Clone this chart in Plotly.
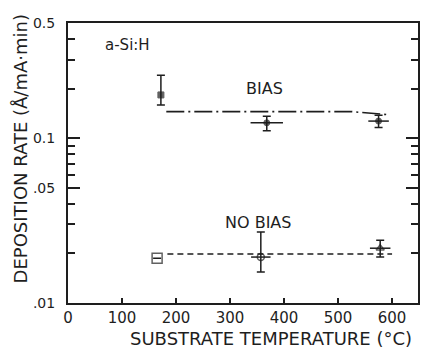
import math
import plotly.graph_objects as go

# ---- data ----
x_bias = [172, 368, 575]
y_bias = [0.183, 0.124, 0.127]
xerr_bias = [0, 30, 19]
yerr_plus_bias = [0.058, 0.012, 0.011]
yerr_minus_bias = [0.024, 0.013, 0.011]
sym_bias = ["square", "circle", "circle"]

x_nobias = [165, 357, 578]
y_nobias = [0.0187, 0.019, 0.0215]
xerr_nobias = [0, 18, 19]
yerr_plus_nobias = [0, 0.008, 0.0025]
yerr_minus_nobias = [0, 0.0036, 0.0025]
sym_nobias = ["square-open", "circle-open", "triangle-up-open"]

x_bias_line = [182, 525, 590]
y_bias_line = [0.145, 0.145, 0.139]
x_nobias_line = [184, 600]
y_nobias_line = [0.0198, 0.0198]

x_ticks = [0, 100, 200, 300, 400, 500, 600]
y_ticks = [0.01, 0.05, 0.1, 0.5]
y_ticktext = [".01", ".05", "0.1", "0.5"]
y_minor = [0.02, 0.03, 0.04, 0.06, 0.07, 0.08, 0.09, 0.2, 0.3, 0.4]

INK = "#1e1e1e"
FONT = "DejaVu Sans"

fig = go.Figure()

fig.add_trace(go.Scatter(x=x_bias_line, y=y_bias_line, mode="lines",
                         line=dict(color=INK, width=1.6, dash="18px,4px,2px,4px"),
                         showlegend=False, hoverinfo="skip"))
fig.add_trace(go.Scatter(x=x_nobias_line, y=y_nobias_line, mode="lines",
                         line=dict(color=INK, width=1.5, dash="6px,4px"),
                         showlegend=False, hoverinfo="skip"))

fig.add_trace(go.Scatter(
    x=x_bias, y=y_bias, mode="markers",
    marker=dict(symbol=sym_bias, size=[6, 6, 6], color=INK,
                line=dict(color=INK, width=1)),
    error_y=dict(type="data", symmetric=False, array=yerr_plus_bias,
                 arrayminus=yerr_minus_bias, color=INK, thickness=1.5, width=4),
    error_x=dict(type="data", array=xerr_bias, color=INK, thickness=1.5, width=0),
    showlegend=False))

fig.add_trace(go.Scatter(
    x=x_nobias, y=y_nobias, mode="markers",
    marker=dict(symbol=sym_nobias, size=[10, 7, 7], color=INK,
                line=dict(color=INK, width=1.5)),
    error_y=dict(type="data", symmetric=False, array=yerr_plus_nobias,
                 arrayminus=yerr_minus_nobias, color=INK, thickness=1.5, width=4),
    error_x=dict(type="data", array=xerr_nobias, color=INK, thickness=1.5, width=0),
    showlegend=False))

fig.add_annotation(x=111, y=math.log10(0.368), text="a-Si:H", showarrow=False,
                   font=dict(family=FONT, size=15, color=INK))
fig.add_annotation(x=363, y=math.log10(0.2), text="BIAS", showarrow=False,
                   font=dict(family=FONT, size=16, color=INK))
fig.add_annotation(x=352, y=math.log10(0.0306), text="NO BIAS", showarrow=False,
                   font=dict(family=FONT, size=16, color=INK))

fig.add_annotation(xref="paper", yref="paper", x=0.58, y=-0.125,
                   text="SUBSTRATE TEMPERATURE (°C)", showarrow=False,
                   font=dict(family=FONT, size=18, color=INK), yanchor="middle")
fig.add_annotation(xref="paper", yref="paper", x=-0.136, y=0.55,
                   text="DEPOSITION RATE (Å/mA·min)", showarrow=False, textangle=-90,
                   font=dict(family=FONT, size=18, color=INK), xanchor="center")

fig.update_xaxes(range=[0, 648], tickvals=x_ticks, ticks="inside", ticklen=5,
                 tickwidth=1.5, tickcolor=INK, showline=True, linecolor=INK,
                 linewidth=2, mirror=True, showgrid=False, zeroline=False,
                 tickfont=dict(family=FONT, size=15, color=INK))
fig.update_yaxes(type="log", range=[-2, -0.30103], tickvals=y_ticks,
                 ticktext=y_ticktext, ticks="inside", ticklen=12, tickwidth=1.5,
                 tickcolor=INK, showline=True, linecolor=INK, linewidth=2,
                 mirror="ticks", showgrid=False, zeroline=False,
                 ticklabelstandoff=8,
                 tickfont=dict(family=FONT, size=14, color=INK),
                 minor=dict(tickvals=y_minor, ticks="inside", ticklen=7,
                            tickwidth=1.5, tickcolor=INK, showgrid=False))

fig.update_layout(width=430, height=349,
                  margin=dict(l=68, r=10, t=23, b=46),
                  paper_bgcolor="white", plot_bgcolor="white",
                  font=dict(family=FONT, color=INK))

fig.write_html("out.html")
